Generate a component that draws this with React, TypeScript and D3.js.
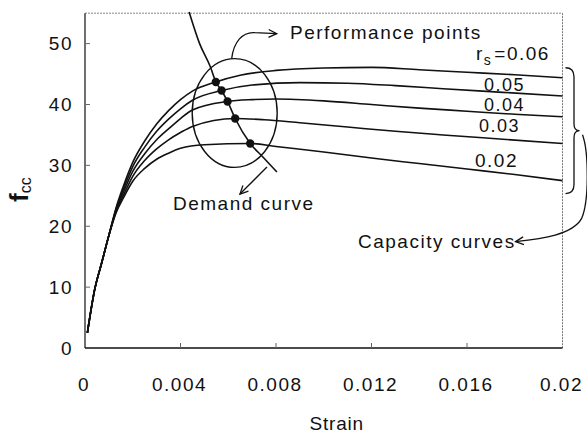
import React from 'react'
import * as d3 from 'd3'

const width = 587
const height = 435

// axis ticks
const strainTicks = [0, 0.004, 0.008, 0.012, 0.016, 0.02]
const strainTickLabels = ['0', '0.004', '0.008', '0.012', '0.016', '0.02']
const fccTicks = [0, 10, 20, 30, 40, 50]

// capacity curves, one per r_s
const rsLabels = ['0.06', '0.05', '0.04', '0.03', '0.02']

const strain06 = [0.0001, 0.0004, 0.0007, 0.001, 0.0013, 0.0016, 0.002, 0.0025, 0.003, 0.0035, 0.004, 0.0045, 0.00548, 0.0065, 0.008, 0.01, 0.012, 0.014, 0.016, 0.018, 0.02]
const fcc06 = [2.5, 9.5, 14, 18.5, 23.0, 26.5, 30.5, 34.0, 36.8, 39.0, 40.8, 42.2, 43.7, 44.8, 45.6, 46.0, 46.1, 45.7, 45.3, 44.9, 44.4]

const strain05 = [0.0001, 0.0004, 0.0007, 0.001, 0.0013, 0.0016, 0.002, 0.0025, 0.003, 0.0035, 0.004, 0.0045, 0.00572, 0.007, 0.009, 0.011, 0.013, 0.015, 0.0175, 0.02]
const fcc05 = [2.5, 9.5, 14, 18.5, 22.8, 26.0, 29.8, 33.0, 35.6, 37.6, 39.3, 40.7, 42.3, 43.2, 43.6, 43.5, 43.1, 42.6, 42.0, 41.4]

const strain04 = [0.0001, 0.0004, 0.0007, 0.001, 0.0013, 0.0016, 0.002, 0.0025, 0.003, 0.0035, 0.004, 0.0045, 0.00597, 0.007, 0.008, 0.01, 0.012, 0.014, 0.016, 0.018, 0.02]
const fcc04 = [2.5, 9.5, 14, 18.5, 22.6, 25.5, 29.0, 31.9, 34.2, 36.0, 37.7, 39.1, 40.5, 40.8, 40.9, 40.6, 40.0, 39.4, 38.9, 38.4, 38.0]

const strain03 = [0.0001, 0.0004, 0.0007, 0.001, 0.0013, 0.0016, 0.002, 0.0025, 0.003, 0.0035, 0.004, 0.0045, 0.00629, 0.0075, 0.009, 0.011, 0.013, 0.015, 0.0175, 0.02]
const fcc03 = [2.5, 9.5, 14, 18.5, 22.4, 25.0, 28.2, 30.8, 32.7, 34.2, 35.4, 36.4, 37.7, 37.5, 37.0, 36.3, 35.6, 35.0, 34.3, 33.6]

const strain02 = [0.0001, 0.0004, 0.0007, 0.001, 0.0013, 0.0016, 0.002, 0.0025, 0.003, 0.0035, 0.004, 0.005, 0.00692, 0.008, 0.01, 0.012, 0.014, 0.016, 0.018, 0.02]
const fcc02 = [2.5, 9.5, 14, 18.5, 22.2, 24.6, 27.4, 29.5, 31.0, 32.0, 32.8, 33.4, 33.6, 33.1, 32.2, 31.2, 30.3, 29.4, 28.5, 27.5]

// demand curve and performance points
const demandStrain = [0.00436, 0.0048, 0.00525, 0.00548, 0.00572, 0.00597, 0.00629, 0.00692, 0.00747, 0.00804]
const demandFcc = [55.2, 50.0, 46.2, 43.7, 42.3, 40.5, 37.7, 33.6, 31.3, 28.9]

const perfStrain = [0.00548, 0.00572, 0.00597, 0.00629, 0.00692]
const perfFcc = [43.7, 42.3, 40.5, 37.7, 33.6]

// ellipse around performance points (centre, half-widths in data units)
const ellipseCentre = [0.00627, 38.6]
const ellipseHalf = [0.00178, 8.93]

const font = '"Liberation Sans", Arial, sans-serif'

const zip = (xs: number[], ys: number[]) => xs.map((x, i) => [x, ys[i]] as [number, number])

const curves = [
  zip(strain06, fcc06),
  zip(strain05, fcc05),
  zip(strain04, fcc04),
  zip(strain03, fcc03),
  zip(strain02, fcc02),
]

function arrowHead(tx: number, ty: number, angle: number, len = 9, spread = 0.45) {
  // angle = direction the arrow points to
  const a1 = angle + Math.PI - spread
  const a2 = angle + Math.PI + spread
  return `M${tx + len * Math.cos(a1)},${ty + len * Math.sin(a1)}L${tx},${ty}L${tx + len * Math.cos(a2)},${ty + len * Math.sin(a2)}`
}

export default function App() {
  const x = d3.scaleLinear().domain([0, 0.02]).range([85, 562.5])
  const y = d3.scaleLinear().domain([0, 55]).range([348, 13.2])

  const line = d3
    .line<[number, number]>()
    .x(d => x(d[0]))
    .y(d => y(d[1]))
    .curve(d3.curveMonotoneX)

  const demand = zip(demandStrain, demandFcc)
  const perf = zip(perfStrain, perfFcc)

  const [x0, x1] = x.range()
  const [yb, yt] = y.range()

  // ellipse geometry
  const ecx = x(ellipseCentre[0])
  const ecy = y(ellipseCentre[1])
  const erx = x(ellipseCentre[0] + ellipseHalf[0]) - ecx
  const ery = ecy - y(ellipseCentre[1] + ellipseHalf[1])
  const etop = ecy - ery

  // brace to the right of the curve ends
  const bTop = y(fcc06[fcc06.length - 1]) - 10
  const bBot = y(fcc02[fcc02.length - 1]) + 13
  const bMid = (bTop + bBot) / 2
  const bx0 = x1 + 3
  const bx1 = x1 + 11.5
  const bxt = x1 + 17
  const brace = `M${bx0},${bTop}Q${bx1},${bTop} ${bx1},${bTop + 9}L${bx1},${bMid - 7}Q${bx1},${bMid} ${bxt},${bMid}Q${bx1},${bMid} ${bx1},${bMid + 7}L${bx1},${bBot - 9}Q${bx1},${bBot} ${bx0},${bBot}`

  const capTipX = x1 - 47
  const capTipY = bMid + 111
  const capArrow = `M${x1 + 20},${bMid + 4}C${x1 + 26},${bMid + 20} ${x1 + 27},${bMid + 70} ${x1 + 19},${bMid + 88}C${x1 + 10},${bMid + 104} ${x1 - 20},${bMid + 108} ${capTipX},${capTipY}`

  // performance points arrow
  const ppTipX = ecx + 42
  const ppTipY = etop - 25
  const ppArrow = `M${ecx - 3},${etop}C${ecx - 1},${etop - 17} ${ecx + 8},${etop - 27} ${ecx + 20},${etop - 26}L${ppTipX},${ppTipY}`

  // demand curve arrow
  const dEnd = demand[demand.length - 1]
  const dsx = x(dEnd[0]) - 10
  const dsy = y(dEnd[1]) - 5
  const dtx = dsx - 27
  const dty = dsy + 27

  const text = { fontFamily: font, fontSize: 19, letterSpacing: 1.5, fill: '#111' } as const

  return (
    <svg width={width} height={height} style={{ position: 'absolute', left: 0, top: 0, background: '#fff' }}>
      {/* frame */}
      <line x1={x0} x2={x1} y1={yt} y2={yt} stroke="#888" strokeWidth={1} strokeDasharray="2,1" />
      <line x1={x1} x2={x1} y1={yt} y2={yb} stroke="#777" strokeWidth={1} strokeDasharray="2,1" />
      <line x1={x0} x2={x0} y1={yt} y2={yb} stroke="#222" strokeWidth={1.3} />
      <line x1={x0} x2={x1} y1={yb} y2={yb} stroke="#111" strokeWidth={1.5} />

      {/* ticks */}
      {fccTicks.map(t => (
        <g key={'y' + t}>
          {t > 0 && <line x1={x0} x2={x0 + 5} y1={y(t)} y2={y(t)} stroke="#666" strokeWidth={1} />}
          <text x={73} y={y(t)} dy="0.35em" textAnchor="end" {...text}>
            {t}
          </text>
        </g>
      ))}
      {strainTicks.map((t, i) => (
        <g key={'x' + t}>
          {i > 0 && i < strainTicks.length - 1 && (
            <line x1={x(t)} x2={x(t)} y1={yb} y2={yb - 5} stroke="#666" strokeWidth={1} />
          )}
          <text x={x(t) - 1} y={391} textAnchor="middle" {...text}>
            {strainTickLabels[i]}
          </text>
        </g>
      ))}

      {/* axis titles */}
      <text x={(x0 + x1) / 2 + 13} y={430} textAnchor="middle" {...text} letterSpacing={0.8}>
        Strain
      </text>
      <text transform="translate(28,202) rotate(-90)" fontFamily={font} fill="#111">
        <tspan fontSize={26} fontWeight="bold">f</tspan>
        <tspan fontSize={16} dy={3}>cc</tspan>
      </text>

      {/* capacity curves */}
      {curves.map((c, i) => (
        <path key={rsLabels[i]} d={line(c) || ''} fill="none" stroke="#111" strokeWidth={1.6} />
      ))}

      {/* demand curve */}
      <path d={line(demand) || ''} fill="none" stroke="#111" strokeWidth={1.6} />

      {/* performance points */}
      {perf.map((p, i) => (
        <circle key={i} cx={x(p[0])} cy={y(p[1])} r={4.2} fill="#111" />
      ))}

      <ellipse cx={ecx} cy={ecy} rx={erx} ry={ery} fill="none" stroke="#111" strokeWidth={1.4} />

      {/* r_s labels */}
      <text x={476} y={60} {...text}>
        r<tspan fontSize={14} dy={5}>s</tspan>
        <tspan dy={-5} dx={2}>=0.06</tspan>
      </text>
      <text x={484} y={90.6} {...text} fontSize={18}>{rsLabels[1]}</text>
      <text x={484} y={111} {...text} fontSize={18}>{rsLabels[2]}</text>
      <text x={479} y={131.6} {...text} fontSize={18}>{rsLabels[3]}</text>
      <text x={475} y={167} {...text}>{rsLabels[4]}</text>

      {/* annotations */}
      <path d={ppArrow} fill="none" stroke="#111" strokeWidth={1.3} />
      <path d={arrowHead(ppTipX, ppTipY, 0.03)} fill="none" stroke="#111" strokeWidth={1.3} />
      <text x={290} y={39} {...text}>Performance points</text>

      <path d={`M${dsx},${dsy}L${dtx},${dty}`} fill="none" stroke="#111" strokeWidth={1.3} />
      <path d={arrowHead(dtx, dty, Math.atan2(dty - dsy, dtx - dsx))} fill="none" stroke="#111" strokeWidth={1.3} />
      <text x={173} y={210} {...text}>Demand curve</text>

      <path d={brace} fill="none" stroke="#111" strokeWidth={1.3} />
      <path d={capArrow} fill="none" stroke="#111" strokeWidth={1.3} />
      <path d={arrowHead(capTipX, capTipY, Math.atan2(3, -27))} fill="none" stroke="#111" strokeWidth={1.3} />
      <text x={358} y={248} {...text}>Capacity curves</text>
    </svg>
  )
}
